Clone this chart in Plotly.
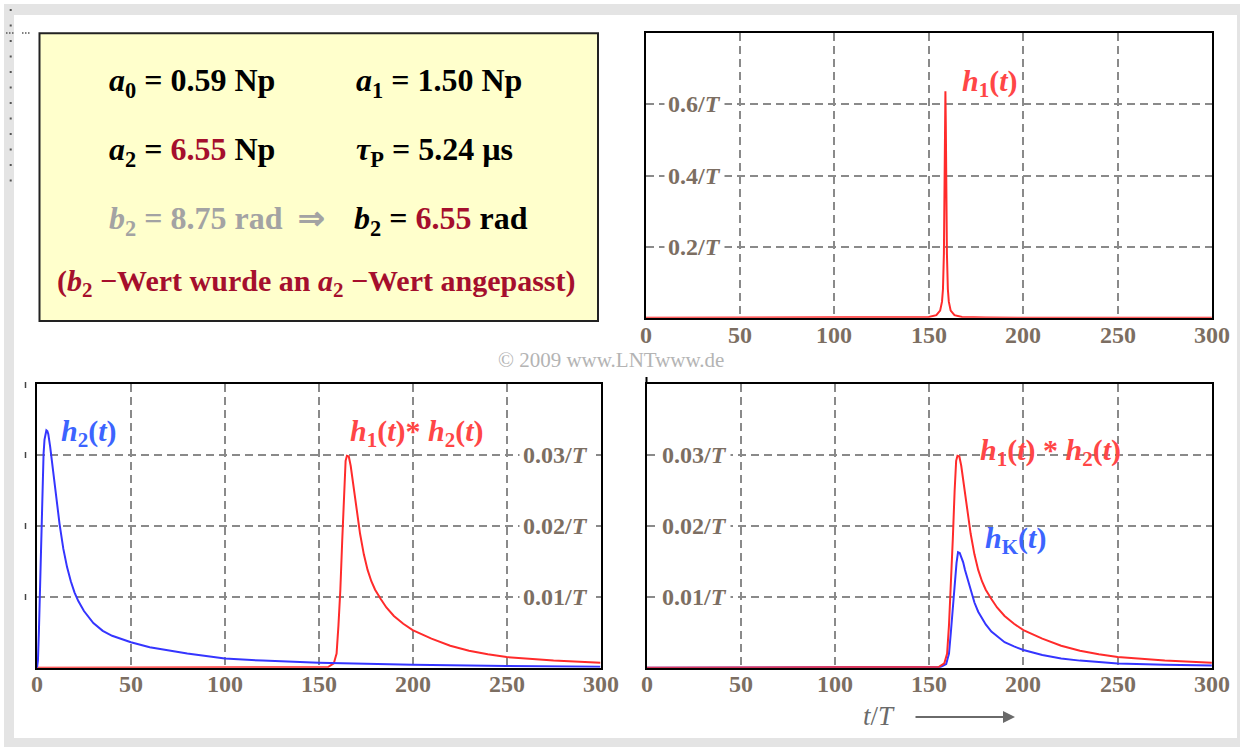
import plotly.graph_objects as go

W, H = 1240, 747

# ---------------- data ----------------
x_ticks = [0, 50, 100, 150, 200, 250, 300]
x_ticklabels = ["0", "50", "100", "150", "200", "250", "300"]
top_yticks = [0.2, 0.4, 0.6]
top_yticklabels = ["0.2/<i>T</i>", "0.4/<i>T</i>", "0.6/<i>T</i>"]
bot_yticks = [0.01, 0.02, 0.03]
bot_yticklabels = ["0.01/<i>T</i>", "0.02/<i>T</i>", "0.03/<i>T</i>"]

h1_t = [0, 100, 140, 150, 154, 156, 157, 157.5, 158, 158.3, 158.6, 158.8,
        159.0, 159.3, 159.6, 160.1, 160.6, 161.6, 163.6, 167.6, 180, 200, 300]
h1_v = [0.0, 0.00005, 0.0005, 0.002, 0.007, 0.02, 0.045, 0.08, 0.18, 0.33, 0.55, 0.637,
        0.55, 0.33, 0.18, 0.08, 0.045, 0.02, 0.007, 0.002, 0.0004, 0.0001, 0.00002]

h2_t = [0, 0.5, 1, 1.5, 2, 2.5, 3, 3.5, 4, 4.5, 5, 5.5, 6, 7, 8, 9, 10, 12, 14, 16, 18,
        20, 22, 25, 30, 35, 40, 50, 60, 70, 80, 100, 120, 150, 200, 250, 300]
h2_v = [0, 0.001, 0.005, 0.011, 0.017, 0.0225, 0.027, 0.0302, 0.0322, 0.0332, 0.0335,
        0.0334, 0.033, 0.0312, 0.029, 0.0267, 0.0245, 0.0203, 0.0168, 0.0142, 0.0122,
        0.0106, 0.0094, 0.008, 0.0063, 0.0052, 0.0045, 0.0036, 0.0029, 0.0024, 0.002,
        0.0013, 0.001, 0.0007, 0.0004, 0.00025, 0.00015]

conv_t = [0, 150, 155, 158, 159.5, 160.5, 161.5, 162.5, 163.5, 164.3, 165, 166, 167, 168,
          169, 170, 172, 174, 176, 178, 180, 183, 186, 190, 195, 200, 210, 220, 230, 240,
          250, 275, 300]
conv_v = [0, 0, 0.0001, 0.0006, 0.002, 0.006, 0.011, 0.018, 0.025, 0.0292, 0.0299, 0.0298,
          0.0285, 0.0265, 0.0243, 0.0223, 0.0189, 0.016, 0.0138, 0.0122, 0.011, 0.0097,
          0.0085, 0.0073, 0.0062, 0.0053, 0.0041, 0.0031, 0.0024, 0.0019, 0.0015, 0.001,
          0.0007]

hK_t = [0, 150, 156, 159, 160.5, 161.5, 162.5, 163.5, 164.5, 165.3, 166.2, 167, 168, 169,
        170, 172, 174, 176, 178, 180, 183, 186, 190, 195, 200, 210, 220, 230, 240, 250,
        275, 300]
hK_v = [0, 0, 0.0001, 0.0005, 0.002, 0.005, 0.0085, 0.0118, 0.0148, 0.0163, 0.0162, 0.0156,
        0.0149, 0.0138, 0.0128, 0.0108, 0.0092, 0.0079, 0.0069, 0.0061, 0.0051, 0.0044,
        0.0036, 0.003, 0.0025, 0.0018, 0.0013, 0.001, 0.0008, 0.0006, 0.0004, 0.0003]

# ---------------- styles ----------------
RED = "#ff2b2b"
BLUE = "#3535ff"
RED_LBL = "#ff4646"
BLUE_LBL = "#3c64ff"
TICK_COL = "#7c6e62"
GRID_COL = "#8a8a8a"
DARKRED = "#a50f2d"
SERIF = "Liberation Serif"


def px(x):
    return x / W


def py(y):
    return 1 - y / H


fig = go.Figure()

# top-right: h1
fig.add_trace(go.Scatter(x=h1_t, y=h1_v, mode="lines", line=dict(color=RED, width=2),
                         xaxis="x", yaxis="y", showlegend=False, hoverinfo="skip"))
# bottom-left: h1*h2 and h2
fig.add_trace(go.Scatter(x=conv_t, y=conv_v, mode="lines", line=dict(color=RED, width=2),
                         xaxis="x2", yaxis="y2", showlegend=False, hoverinfo="skip"))
fig.add_trace(go.Scatter(x=h2_t, y=h2_v, mode="lines", line=dict(color=BLUE, width=2),
                         xaxis="x2", yaxis="y2", showlegend=False, hoverinfo="skip"))
# bottom-right: hK and h1*h2
fig.add_trace(go.Scatter(x=hK_t, y=hK_v, mode="lines", line=dict(color=BLUE, width=2),
                         xaxis="x3", yaxis="y3", showlegend=False, hoverinfo="skip"))
fig.add_trace(go.Scatter(x=conv_t, y=conv_v, mode="lines", line=dict(color=RED, width=2),
                         xaxis="x3", yaxis="y3", showlegend=False, hoverinfo="skip"))


def xax(domain, anchor):
    return dict(domain=domain, anchor=anchor, range=[0, 300], tickmode="array",
                tickvals=x_ticks, showticklabels=False, showgrid=True, gridcolor=GRID_COL,
                gridwidth=1.5, griddash="8px,5px", showline=True, linecolor="black",
                linewidth=2, mirror=True, ticks="", zeroline=False, fixedrange=True)


def yax(domain, anchor, rng, vals):
    return dict(domain=domain, anchor=anchor, range=rng, tickmode="array", tickvals=vals,
                showticklabels=False, showgrid=True, gridcolor=GRID_COL, gridwidth=1.5,
                griddash="8px,5px", showline=True, linecolor="black", linewidth=2,
                mirror=True, ticks="", zeroline=False, fixedrange=True)


fig.update_layout(
    width=W, height=H, autosize=False,
    margin=dict(l=0, r=0, t=0, b=0),
    paper_bgcolor="white", plot_bgcolor="rgba(0,0,0,0)",
    xaxis=xax([px(645.7), px(1211.9)], "y"),
    yaxis=yax([py(317.7), py(33.3)], "x", [0, 0.8], top_yticks),
    xaxis2=xax([px(37), px(600.5)], "y2"),
    yaxis2=yax([py(667.7), py(384.3)], "x2", [0, 0.04], bot_yticks),
    xaxis3=xax([px(646.5), px(1211.9)], "y3"),
    yaxis3=yax([py(667.7), py(384.3)], "x3", [0, 0.04], bot_yticks),
)

shapes = []
# outer frame
shapes.append(dict(type="rect", xref="paper", yref="paper", x0=px(4), x1=1, y0=0, y1=py(4),
                   fillcolor="#e4e4e4", line=dict(width=0), layer="below"))
shapes.append(dict(type="rect", xref="paper", yref="paper", x0=px(14), x1=px(1237),
                   y0=py(738), y1=py(15), fillcolor="white", line=dict(width=0), layer="below"))
# yellow parameter box
shapes.append(dict(type="rect", xref="paper", yref="paper", x0=px(39.5), x1=px(598),
                   y0=py(321), y1=py(33.3), fillcolor="#ffffcc",
                   line=dict(color="#222222", width=2), layer="below"))
# small dotted artefacts at the left edge
shapes.append(dict(type="line", xref="paper", yref="paper", x0=px(10.7), x1=px(10.7),
                   y0=py(9), y1=py(184), line=dict(color="#555555", width=2, dash="2px,13.5px")))
shapes.append(dict(type="line", xref="paper", yref="paper", x0=px(6), x1=px(14),
                   y0=py(33), y1=py(33), line=dict(color="#555555", width=1.5, dash="1.5px,1.5px")))
shapes.append(dict(type="line", xref="paper", yref="paper", x0=px(22), x1=px(30),
                   y0=py(33), y1=py(33), line=dict(color="#555555", width=1.5, dash="1.5px,1.5px")))
for yy in [385, 455, 526, 597]:
    shapes.append(dict(type="line", xref="paper", yref="paper", x0=px(25.5), x1=px(25.5),
                       y0=py(yy + 3), y1=py(yy - 3), line=dict(color="#444444", width=1.5)))
shapes.append(dict(type="line", xref="paper", yref="paper", x0=px(646.5), x1=px(646.5),
                   y0=py(384), y1=py(377), line=dict(color="black", width=2)))
fig.update_layout(shapes=shapes)

ann = []


def box_text(text, x, y, color="black", size=32, anchor="left"):
    ann.append(dict(text="<b>" + text + "</b>", x=px(x), y=py(y), xref="paper", yref="paper",
                    xanchor=anchor, yanchor="middle", showarrow=False,
                    font=dict(family=SERIF, size=size, color=color)))


red655 = "<span style='color:%s'>6.55</span>" % DARKRED
box_text("<i>a</i><sub>0</sub> = 0.59 Np", 107, 82)
box_text("<i>a</i><sub>1</sub> = 1.50 Np", 354, 82)
box_text("<i>a</i><sub>2</sub> = " + red655 + " Np", 107, 152)
box_text("<i>τ</i><sub>P</sub> = 5.24 µs", 354, 152)
box_text("<i>b</i><sub>2</sub> = 8.75 rad  ⇒", 107, 220, color="#a3a3a3")
box_text("<i>b</i><sub>2</sub> = " + red655 + " rad", 352, 220)
box_text("(<i>b</i><sub>2</sub> −Wert wurde an <i>a</i><sub>2</sub> −Wert angepasst)",
         317, 283, color=DARKRED, size=30, anchor="center")

# x tick labels (below each plot)
for xr, ypix in [("x", 335), ("x2", 684), ("x3", 684)]:
    for v, lab in zip(x_ticks, x_ticklabels):
        ann.append(dict(text="<b>" + lab + "</b>", x=v, y=py(ypix), xref=xr, yref="paper",
                        showarrow=False, xanchor="center", yanchor="middle",
                        font=dict(family=SERIF, size=24, color=TICK_COL)))

# y tick labels inside the plots
for v, lab in zip(top_yticks, top_yticklabels):
    ann.append(dict(text="<b>" + lab + "</b>", x=26, y=v, xref="x", yref="y", showarrow=False,
                    xanchor="center", yanchor="middle", bgcolor="white", borderpad=3,
                    font=dict(family=SERIF, size=24, color=TICK_COL)))
for v, lab in zip(bot_yticks, bot_yticklabels):
    ann.append(dict(text="<b>" + lab + "</b>", x=276, y=v, xref="x2", yref="y2",
                    showarrow=False, xanchor="center", yanchor="middle", bgcolor="white",
                    borderpad=3, font=dict(family=SERIF, size=24, color=TICK_COL)))
    ann.append(dict(text="<b>" + lab + "</b>", x=25.7, y=v, xref="x3", yref="y3",
                    showarrow=False, xanchor="center", yanchor="middle", bgcolor="white",
                    borderpad=3, font=dict(family=SERIF, size=24, color=TICK_COL)))


def curve_label(text, x, y, color):
    ann.append(dict(text="<b>" + text + "</b>", x=px(x), y=py(y), xref="paper", yref="paper",
                    xanchor="left", yanchor="middle", showarrow=False,
                    font=dict(family=SERIF, size=30, color=color)))


curve_label("<i>h</i><sub>1</sub>(<i>t</i>)", 960, 83, RED_LBL)
curve_label("<i>h</i><sub>2</sub>(<i>t</i>)", 59, 433, BLUE_LBL)
curve_label("<i>h</i><sub>1</sub>(<i>t</i>)* <i>h</i><sub>2</sub>(<i>t</i>)", 348, 433, RED_LBL)
curve_label("<i>h</i><sub>1</sub>(<i>t</i>) * <i>h</i><sub>2</sub>(<i>t</i>)", 978, 452, RED_LBL)
curve_label("<i>h</i><sub>K</sub>(<i>t</i>)", 983, 540, BLUE_LBL)

# watermark
ann.append(dict(text="© 2009 www.LNTwww.de", x=px(610.5), y=py(360), xref="paper",
                yref="paper", showarrow=False, xanchor="center", yanchor="middle",
                font=dict(family=SERIF, size=21, color="#b4b4b4")))

# x-axis title with arrow
ann.append(dict(text="<i>t</i>/<i>T</i>", x=px(879), y=py(716), xref="paper", yref="paper",
                showarrow=False, xanchor="center", yanchor="middle",
                font=dict(family=SERIF, size=27, color="#6a6a6a")))
ann.append(dict(text="", x=px(1015), y=py(717), xref="paper", yref="paper", showarrow=True,
                ax=-101, ay=0, arrowhead=2, arrowsize=1.2, arrowwidth=2,
                arrowcolor="#6a6a6a"))

fig.update_layout(annotations=ann)

fig.write_html("out.html")
